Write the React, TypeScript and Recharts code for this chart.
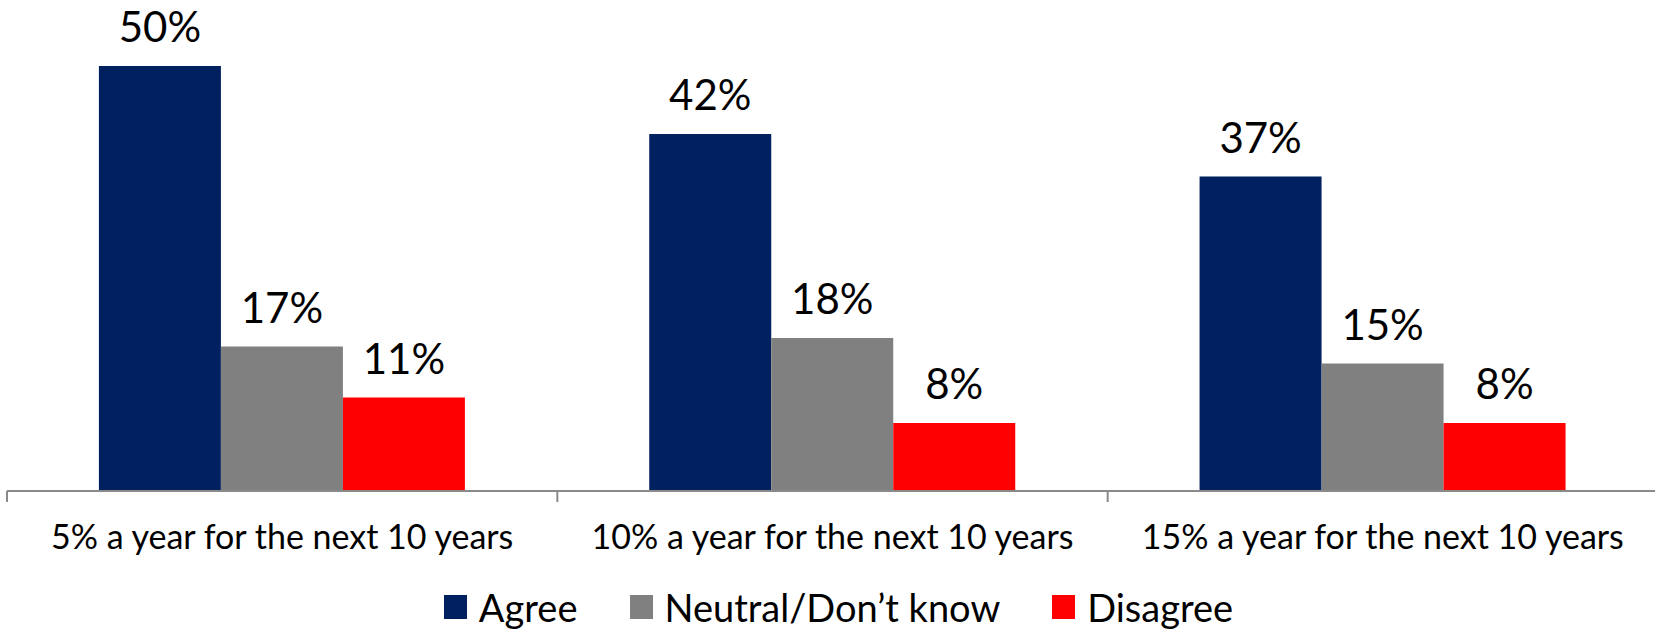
import React from 'react';
import { BarChart, Bar, XAxis, YAxis, LabelList, Legend } from 'recharts';

const categories = [
  '5% a year for the next 10 years',
  '10% a year for the next 10 years',
  '15% a year for the next 10 years',
];
const agreeValues = [50, 42, 37];
const neutralValues = [17, 18, 15];
const disagreeValues = [11, 8, 8];
const seriesKeys = ['agree', 'neutral', 'disagree'];
const seriesNames = ['Agree', 'Neutral/Don\u2019t know', 'Disagree'];
const seriesColors = ['#002060', '#808080', '#FF0000'];

const data = categories.map((name, i) => ({
  name,
  agree: agreeValues[i],
  neutral: neutralValues[i],
  disagree: disagreeValues[i],
}));

const FONT = 'Lato, "Open Sans", sans-serif';
const AXIS_COLOR = '#8a8a8a';

const AxisTick = (props: any) => {
  const { x, y, payload, index, visibleTicksCount, width } = props;
  const half =
    payload && typeof payload.offset === 'number' && payload.offset > 0
      ? payload.offset
      : width / visibleTicksCount / 2;
  return (
    <g>
      <line x1={x - half} x2={x - half} y1={y} y2={y + 11} stroke={AXIS_COLOR} strokeWidth={2} />
      {index === visibleTicksCount - 1 && (
        <line x1={x + half} x2={x + half} y1={y} y2={y + 11} stroke={AXIS_COLOR} strokeWidth={2} />
      )}
      <text x={x} y={y + 58} textAnchor="middle" fontFamily={FONT} fontSize={34} fill="#000">
        {payload.value}
      </text>
    </g>
  );
};

const LegendContent = () => (
  <div
    style={{
      display: 'flex',
      justifyContent: 'center',
      alignItems: 'center',
      height: 42,
      fontFamily: FONT,
      fontSize: 38,
      color: '#000',
      paddingLeft: 12,
      position: 'relative',
      top: -2,
    }}
  >
    {seriesNames.map((n, i) => (
      <div key={n} style={{ display: 'flex', alignItems: 'center', marginLeft: i ? 52 : 0 }}>
        <div style={{ width: 23, height: 24, background: seriesColors[i], marginRight: 12 }} />
        <span style={{ lineHeight: '42px', whiteSpace: 'nowrap' }}>{n}</span>
      </div>
    ))}
  </div>
);

const pct = (v: any) => `${v}%`;

export default function App() {
  return (
    <div style={{ position: 'absolute', left: 0, top: 0, width: 1655, height: 630, overflow: 'hidden', background: '#fff' }}>
      <BarChart
        width={1658}
        height={630}
        data={data}
        margin={{ top: 66, right: 0, left: 7, bottom: 0 }}
        barCategoryGap="16.7%"
        barGap={0}
      >
        <XAxis
          dataKey="name"
          height={97}
          interval={0}
          tickSize={0}
          tickMargin={0}
          tickLine={false}
          axisLine={{ stroke: AXIS_COLOR, strokeWidth: 2 }}
          tick={<AxisTick />}
        />
        <YAxis hide domain={[0, 50]} />
        {seriesKeys.map((k, i) => (
          <Bar key={k} dataKey={k} name={seriesNames[i]} fill={seriesColors[i]} isAnimationActive={false}>
            <LabelList
              dataKey={k}
              position="top"
              offset={24}
              formatter={pct}
              fill="#000"
              fontSize={42}
              fontFamily={FONT}
            />
          </Bar>
        ))}
        <Legend verticalAlign="bottom" content={<LegendContent />} />
      </BarChart>
    </div>
  );
}
